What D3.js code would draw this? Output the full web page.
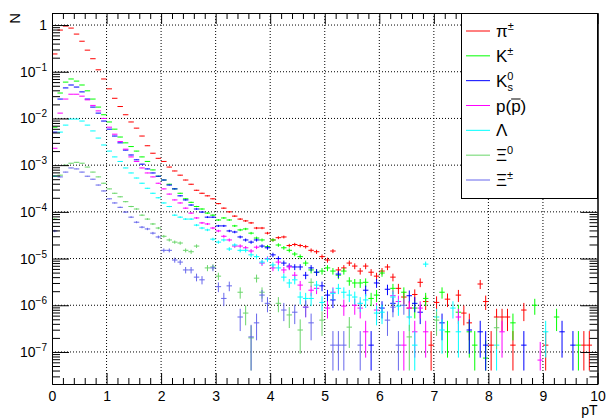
<!DOCTYPE html>
<html>
<head>
<meta charset="utf-8">
<script src="https://cdn.jsdelivr.net/npm/d3@7"></script>
<style>
  body { margin: 0; background: #fff; }
  text { font-family: 'Liberation Sans', Arial, Helvetica, sans-serif; }
</style>
</head>
<body>
<div id="chart"></div>
<script>
// pT spectra per particle species, bins of 0.1 GeV from 0 to 10
const binWidth = 0.1
const xTicks = [0, 1, 2, 3, 4, 5, 6, 7, 8, 9, 10]
const yDecades = [1e-7, 1e-6, 1e-5, 1e-4, 1e-3, 1e-2, 1e-1, 1]
const singleEntry = 1.4e-7   // content of a bin holding one entry
const errFloor = 4e-8        // lower ends of empty-below error bars stop here

const pion = [
  0.24, 0.78, 0.95, 0.86, 0.64, 0.45, 0.29, 0.19, 0.11, 0.070,
  0.043, 0.027, 0.018, 0.012, 8.4e-3, 6.2e-3, 4.2e-3, 2.6e-3, 1.8e-3, 1.4e-3,
  1.2e-3, 9.1e-4, 7.5e-4, 6.1e-4, 4.8e-4, 3.9e-4, 2.9e-4, 2.5e-4, 2.2e-4, 1.9e-4,
  1.5e-4, 1.2e-4, 1.0e-4, 8.1e-5, 7.0e-5, 6.4e-5, 5.8e-5, 4.5e-5, 4.5e-5, 3.5e-5,
  2.5e-5, 2.8e-5, 2.9e-5, 1.9e-5, 2.0e-5, 1.9e-5, 1.8e-5, 1.5e-5, 1.4e-5, 1.1e-5,
  9.3e-6, 1.45e-5, 5.7e-6, 6.3e-6, 8.0e-6, 6.9e-6, 5.4e-6, 6.9e-6, 5.1e-6, 4.2e-6,
  5.4e-6, 6.6e-6, 4.0e-6, 2.3e-6, 1.5e-6, 8.7e-7, 1.7e-6, 3.1e-6, 1.2e-6, 1.4e-7,
  1.15e-6, null, 1.35e-6, null, 1.65e-6, 6.8e-7, 4.2e-7, null, 2.85e-6, 1.2e-6,
  1.4e-7, 5.6e-7, 5.6e-7, 5.6e-7, 1.4e-7, null, 7.9e-7, null, null, null,
  1.4e-7, null, null, null, null, null, null, 1.4e-7, 1.4e-7, null
]

const kaon = [
  6.5e-3, 3.5e-2, 6.0e-2, 7.0e-2, 6.3e-2, 5.2e-2, 3.9e-2, 2.6e-2, 1.75e-2, 1.2e-2,
  8.4e-3, 5.9e-3, 4.0e-3, 3.0e-3, 2.5e-3, 2.0e-3, 1.5e-3, 1.2e-3, 7.9e-4, 5.8e-4,
  4.8e-4, 3.9e-4, 3.1e-4, 2.5e-4, 1.9e-4, 1.6e-4, 1.3e-4, 1.15e-4, 9.4e-5, 8.5e-5,
  6.7e-5, 7.4e-5, 6.7e-5, 5.0e-5, 4.1e-5, 4.3e-5, 3.5e-5, 2.75e-5, 2.5e-5, 1.8e-5,
  2.5e-5, 1.95e-5, 1.7e-5, 1.5e-5, 1.25e-5, 1.1e-5, 8.0e-6, 5.7e-6, 5.1e-6, 5.4e-6,
  6.3e-6, 5.4e-6, 4.4e-6, 5.4e-6, 3.3e-6, 3.0e-6, 3.0e-6, 3.1e-6, 1.4e-6, 1.65e-6,
  4.9e-6, null, 2.3e-6, null, 1.9e-6, null, 8.7e-7, null, 1.4e-6, null,
  null, 1.9e-6, 2.7e-7, null, 7.1e-7, null, 2.7e-7, 1.4e-7, null, 7.4e-8,
  null, null, null, null, 4.2e-7, null, null, null, 1.0e-6, null,
  null, null, 5.6e-7, null, null, null, 1.4e-7, null, null, null
]

const k0short = [
  5.1e-3, 2.6e-2, 4.5e-2, 5.2e-2, 4.7e-2, 3.7e-2, 2.6e-2, 1.75e-2, 1.3e-2, 8.8e-3,
  5.9e-3, 4.2e-3, 3.0e-3, 2.1e-3, 1.65e-3, 1.3e-3, 1.05e-3, 8.3e-4, 6.8e-4, 5.8e-4,
  4.8e-4, 3.75e-4, 3.1e-4, 2.2e-4, 1.8e-4, 1.4e-4, 1.15e-4, 9.9e-5, 7.7e-5, 7.7e-5,
  5.0e-5, 5.0e-5, 3.9e-5, 3.7e-5, 2.9e-5, 2.5e-5, 2.25e-5, 2.5e-5, 1.85e-5, 1.7e-5,
  1.2e-5, 1.0e-5, 8.0e-6, 6.9e-6, 6.6e-6, 6.6e-6, 4.4e-6, 6.3e-6, 5.1e-6, 2.6e-6,
  1.65e-6, 1.3e-6, 4.65e-6, null, null, null, null, 2.1e-6, 1.4e-7, 3.0e-6,
  8.7e-7, 2.2e-6, 1.1e-6, null, null, 1.6e-6, 1.1e-6, 7.1e-7, null, null,
  null, 4.2e-7, null, null, null, null, 2.95e-7, null, 2.7e-7, 1.4e-7,
  null, null, null, null, null, null, 1.4e-7, null, null, null,
  null, null, null, 2.7e-7, null, 1.4e-7, null, null, null, null
]

const proton = [
  2.3e-3, 1.3e-2, 2.6e-2, 3.3e-2, 3.3e-2, 3.0e-2, 2.5e-2, 1.9e-2, 1.45e-2, 1.0e-2,
  6.5e-3, 4.6e-3, 3.2e-3, 2.2e-3, 1.5e-3, 1.2e-3, 8.7e-4, 6.8e-4, 5.6e-4, 4.1e-4,
  3.1e-4, 2.4e-4, 1.8e-4, 1.55e-4, 1.2e-4, 9.4e-5, 7.4e-5, 5.8e-5, 5.5e-5, 4.5e-5,
  3.9e-5, 3.0e-5, 2.5e-5, 1.85e-5, 1.85e-5, 1.7e-5, 1.45e-5, 1.75e-5, 8.0e-6, 1.0e-5,
  6.3e-6, 8.4e-6, 5.7e-6, 6.6e-6, 4.4e-6, 2.7e-6, 9.1e-7, 2.1e-6, 2.3e-6, null,
  8.7e-7, 1.9e-6, null, 9.6e-7, null, 1.0e-6, 8.7e-7, 2.7e-7, null, 7.9e-7,
  null, null, 1.6e-6, 1.2e-6, 1.4e-7, 8.7e-7, 2.7e-7, 8.7e-7, 2.7e-7, null,
  null, null, null, null, 5.6e-7, null, null, null, null, null,
  null, null, 2.7e-7, null, null, null, null, null, null, 6.7e-8,
  null, null, null, null, null, null, null, null, null, null
]

const lambda = [
  5.8e-4, 5.1e-3, 7.2e-3, 9.7e-3, 9.7e-3, 8.8e-3, 7.2e-3, 5.4e-3, 3.8e-3, 2.7e-3,
  2.0e-3, 1.5e-3, 1.2e-3, 8.7e-4, 6.8e-4, 5.3e-4, 4.1e-4, 3.2e-4, 2.5e-4, 2.0e-4,
  1.55e-4, 1.3e-4, 8.5e-5, 7.7e-5, 7.0e-5, 7.0e-5, 5.2e-5, 4.5e-5, 4.1e-5, 2.6e-5,
  2.25e-5, 2.5e-5, 1.6e-5, 1.95e-5, 1.5e-5, 1.5e-5, 1.2e-5, 1.1e-5, 8.4e-6, 9.7e-6,
  7.3e-6, 6.3e-6, 4.0e-6, 3.0e-6, 3.5e-6, 1.5e-6, 1.4e-6, 1.4e-6, 2.7e-6, 1.15e-6,
  null, 1.8e-6, 2.3e-6, 1.9e-6, 1.65e-6, 1.5e-6, 1.1e-6, 1.3e-6, null, 6.8e-7,
  7.1e-7, null, 1.5e-6, 9.6e-7, null, 5.6e-7, 1.4e-7, null, 7.6e-6, null,
  5.6e-7, 2.95e-7, null, 8.7e-7, 2.7e-7, null, null, null, null, null,
  null, 1.4e-7, null, null, null, null, null, null, null, null,
  2.7e-7, null, null, null, null, null, null, null, null, null
]

const xi0 = [
  7.0e-5, 6.1e-4, 1.0e-3, 1.1e-3, 1.15e-3, 1.1e-3, 9.1e-4, 7.1e-4, 5.6e-4, 4.1e-4,
  3.1e-4, 2.5e-4, 2.1e-4, 1.65e-4, 1.3e-4, 1.15e-4, 8.5e-5, 7.0e-5, 5.5e-5, 4.5e-5,
  3.0e-5, 2.5e-5, 2.25e-5, 2.15e-5, 1.5e-5, 1.4e-5, 1.85e-5, null, 6.3e-6, 6.6e-6,
  4.2e-6, null, null, null, 1.9e-6, 6.8e-7, 2.0e-7, 3.8e-6, 1.9e-6, null,
  null, 1.1e-6, null, 6.2e-7, null, 2.95e-7, null, 3.1e-6, null, 4.8e-7,
  null, null, null, null, 3.4e-7, null, null, null, null, null,
  null, null, null, null, null, 2.1e-7, null, null, null, null,
  4.8e-7, null, null, null, null, null, null, null, null, null,
  null, 3.3e-7, null, null, null, null, null, null, null, null,
  null, null, null, null, null, null, null, null, null, null
]

const xiCharged = [
  3.9e-5, 5.6e-4, 7.1e-4, 8.7e-4, 8.3e-4, 7.1e-4, 5.8e-4, 5.0e-4, 3.75e-4, 2.8e-4,
  1.9e-4, 1.55e-4, 1.25e-4, 9.9e-5, 7.7e-5, 6.0e-5, 4.7e-5, 4.3e-5, 3.5e-5, 2.9e-5,
  1.5e-5, 1.5e-5, 9.3e-6, 8.4e-6, 5.7e-6, 5.7e-6, 4.0e-6, 3.5e-6, null, 6.3e-6,
  2.5e-6, 1.4e-6, 2.6e-6, null, 5.6e-7, null, 2.1e-7, 4.2e-7, 1.65e-6, 1.1e-6,
  null, null, 7.9e-7, null, 7.1e-7, null, 9.1e-7, 4.2e-7, null, null,
  null, 1.4e-7, 1.4e-7, 1.4e-7, null, null, 1.4e-7, null, null, null,
  null, 4.8e-7, 9.1e-7, 1.4e-7, 1.0e-6, null, null, null, null, null,
  null, null, null, null, null, null, null, null, null, null,
  null, null, null, null, null, null, null, null, null, null,
  null, null, null, null, null, null, null, null, null, null
]

const series = [
  { values: pion, color: '#ff0000', label: [['π'], ['±', 'sup']] },
  { values: kaon, color: '#00ff00', label: [['K'], ['±', 'sup']] },
  { values: k0short, color: '#0000ff', label: [['K'], ['0', 'sup'], ['s', 'sub']] },
  { values: proton, color: '#ff00ff', label: [['p('], ['p', 'bar'], [')']] },
  { values: lambda, color: '#00ffff', label: [['Λ']] },
  { values: xi0, color: '#6ad66a', label: [['Ξ'], ['0', 'sup']] },
  { values: xiCharged, color: '#6767ec', label: [['Ξ'], ['±', 'sup']] }
]

const width = 606
const height = 419
const frame = { left: 52, right: 597.5, top: 13, bottom: 384 }

const x = d3.scaleLinear().domain([0, 10]).range([frame.left, frame.right])
const y = d3.scaleLog().domain([2.06e-8, 1.81]).range([frame.bottom, frame.top])

const svg = d3.select('#chart')
  .append('svg')
  .attr('width', width)
  .attr('height', height)

svg.append('defs')
  .append('clipPath')
  .attr('id', 'frameClip')
  .append('rect')
  .attr('x', frame.left)
  .attr('y', frame.top)
  .attr('width', frame.right - frame.left)
  .attr('height', frame.bottom - frame.top)

// dotted grid
const grid = svg.append('g')
  .attr('stroke', '#000')
  .attr('stroke-width', 1)
  .attr('stroke-dasharray', '1,2')
grid.selectAll('.gx')
  .data(xTicks.slice(1, -1))
  .enter()
  .append('line')
  .attr('x1', d => x(d)).attr('x2', d => x(d))
  .attr('y1', frame.top).attr('y2', frame.bottom)
grid.selectAll('.gy')
  .data(yDecades)
  .enter()
  .append('line')
  .attr('y1', d => y(d)).attr('y2', d => y(d))
  .attr('x1', frame.left).attr('x2', frame.right)

// data points with error bars
const plot = svg.append('g').attr('clip-path', 'url(#frameClip)')
series.forEach(s => {
  const pts = s.values
    .map((v, i) => ({ i, v }))
    .filter(d => d.v !== null)
  const g = plot.append('g')
    .attr('stroke', s.color)
    .attr('stroke-width', 1)
    .attr('fill', 'none')
  const marks = g.selectAll('g')
    .data(pts)
    .enter()
    .append('g')
  marks.append('line')
    .attr('x1', d => x(d.i * binWidth))
    .attr('x2', d => x((d.i + 1) * binWidth))
    .attr('y1', d => y(d.v))
    .attr('y2', d => y(d.v))
  marks.append('line')
    .attr('x1', d => x((d.i + 0.5) * binWidth))
    .attr('x2', d => x((d.i + 0.5) * binWidth))
    .attr('y1', d => y(d.v + Math.sqrt(d.v * singleEntry)))
    .attr('y2', d => y(Math.max(d.v - Math.sqrt(d.v * singleEntry), errFloor)))
})

// axes: major and minor ticks on all four sides
const xMinor = d3.range(0, 10.01, 0.2).filter(d => Math.abs(d - Math.round(d)) > 0.01)
const yMinor = []
d3.range(-8, 1).forEach(k => {
  d3.range(2, 10).forEach(m => {
    const v = m * Math.pow(10, k)
    if (v > y.domain()[0] && v < y.domain()[1]) yMinor.push(v)
  })
})

function styleAxis(g) {
  g.selectAll('path').attr('stroke', '#000')
  g.selectAll('line').attr('stroke', '#000')
  g.selectAll('text')
    .attr('fill', '#000')
    .style('font-size', '14px')
    .style('font-family', "'Liberation Sans', Arial, sans-serif")
}

svg.append('g')
  .attr('transform', `translate(0, ${frame.bottom})`)
  .call(d3.axisBottom(x).tickValues(xTicks).tickSize(-11).tickSizeOuter(0).tickPadding(7)
    .tickFormat(d3.format('d')))
  .call(styleAxis)
svg.append('g')
  .attr('transform', `translate(0, ${frame.bottom})`)
  .call(d3.axisBottom(x).tickValues(xMinor).tickSize(-6).tickSizeOuter(0).tickFormat(''))
  .call(styleAxis)
svg.append('g')
  .attr('transform', `translate(0, ${frame.top})`)
  .call(d3.axisTop(x).tickValues(xTicks).tickSize(-11).tickSizeOuter(0).tickFormat(''))
  .call(styleAxis)
svg.append('g')
  .attr('transform', `translate(0, ${frame.top})`)
  .call(d3.axisTop(x).tickValues(xMinor).tickSize(-6).tickSizeOuter(0).tickFormat(''))
  .call(styleAxis)

svg.append('g')
  .attr('transform', `translate(${frame.left}, 0)`)
  .call(d3.axisLeft(y).tickValues(yDecades).tickSize(-17).tickSizeOuter(0).tickFormat(''))
  .call(styleAxis)
svg.append('g')
  .attr('transform', `translate(${frame.left}, 0)`)
  .call(d3.axisLeft(y).tickValues(yMinor).tickSize(-8).tickSizeOuter(0).tickFormat(''))
  .call(styleAxis)
svg.append('g')
  .attr('transform', `translate(${frame.right}, 0)`)
  .call(d3.axisRight(y).tickValues(yDecades).tickSize(-17).tickSizeOuter(0).tickFormat(''))
  .call(styleAxis)
svg.append('g')
  .attr('transform', `translate(${frame.right}, 0)`)
  .call(d3.axisRight(y).tickValues(yMinor).tickSize(-8).tickSizeOuter(0).tickFormat(''))
  .call(styleAxis)

// y labels 1, 10^-1 ... 10^-7
const yLabels = svg.append('g')
  .selectAll('text')
  .data(yDecades)
  .enter()
  .append('text')
  .attr('x', frame.left - 5)
  .attr('y', d => y(d) + 5)
  .attr('text-anchor', 'end')
  .style('font-size', '14px')
yLabels.each(function (d) {
  const t = d3.select(this)
  const k = Math.round(Math.log10(d))
  if (k === 0) {
    t.text('1')
  } else {
    t.append('tspan').text('10')
    t.append('tspan').attr('dy', -6).style('font-size', '10px').text('\u2212' + (-k))
  }
})

// axis titles
svg.append('text')
  .attr('transform', `translate(20, ${frame.top}) rotate(-90)`)
  .attr('text-anchor', 'end')
  .style('font-size', '15px')
  .text('N')
svg.append('text')
  .attr('x', frame.right)
  .attr('y', 415)
  .attr('text-anchor', 'end')
  .style('font-size', '14px')
  .text('pT')

// legend
const legendRow = d3.scaleLinear().domain([0, series.length - 1]).range([31, 180])
const legend = svg.append('g')
legend.append('rect')
  .attr('x', 461.5)
  .attr('y', 13.5)
  .attr('width', 136)
  .attr('height', 185)
  .attr('fill', '#fff')
  .attr('stroke', '#000')
  .attr('stroke-width', 1)

const rows = legend.selectAll('.row')
  .data(series)
  .enter()
  .append('g')
  .attr('transform', (d, i) => `translate(0, ${legendRow(i)})`)
rows.append('line')
  .attr('x1', 466).attr('x2', 490)
  .attr('y1', 0).attr('y2', 0)
  .attr('stroke', d => d.color)
  .attr('stroke-width', 1)
rows.append('text')
  .attr('x', 496)
  .attr('y', 6)
  .style('font-size', '17px')
  .each(function (d) {
    const t = d3.select(this)
    let shift = 0
    let lastSupWidth = 0
    d.label.forEach(([str, kind]) => {
      const sp = t.append('tspan').text(str)
      if (kind === 'sup') {
        sp.attr('dy', -7 - shift).style('font-size', '11px')
        shift = -7
        lastSupWidth = 6
      } else if (kind === 'sub') {
        sp.attr('dy', 11).attr('dx', -lastSupWidth).style('font-size', '11px')
        shift = 4
      } else {
        if (shift !== 0) sp.attr('dy', -shift)
        shift = 0
      }
    })
    // overline for the antiproton
    const barIdx = d.label.findIndex(p => p[1] === 'bar')
    if (barIdx >= 0) {
      const charPos = d.label.slice(0, barIdx).map(p => p[0]).join('').length
      const node = this
      const start = node.getStartPositionOfChar(charPos)
      const end = node.getEndPositionOfChar(charPos)
      d3.select(node.parentNode).append('line')
        .attr('x1', start.x).attr('x2', end.x)
        .attr('y1', start.y - 12.5).attr('y2', start.y - 12.5)
        .attr('stroke', '#000')
        .attr('stroke-width', 1)
    }
  })
</script>
</body>
</html>
